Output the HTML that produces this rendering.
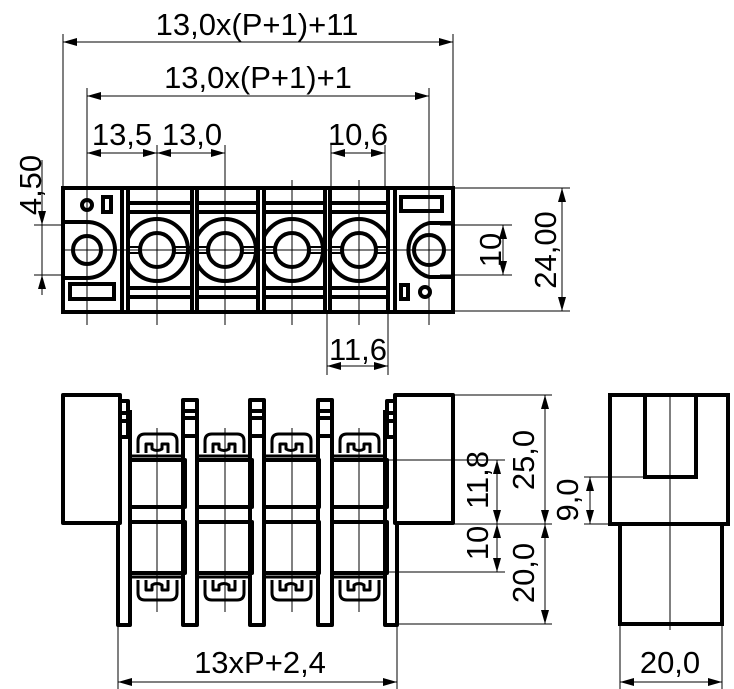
<!DOCTYPE html>
<html><head><meta charset="utf-8"><style>
html,body{margin:0;padding:0;background:#fff}
svg{display:block}
text{font-family:"Liberation Sans",sans-serif;font-size:31px;fill:#000}
</style></head><body>
<svg width="734" height="689" viewBox="0 0 734 689" xmlns="http://www.w3.org/2000/svg">
<defs>
<marker id="a" viewBox="0 0 14 8" refX="14" refY="4" markerWidth="14" markerHeight="8" markerUnits="userSpaceOnUse" orient="auto-start-reverse"><path d="M0,0 L14,4 L0,8 Z" fill="#000"/></marker>
<clipPath id="c1"><rect x="128" y="188" width="64" height="125"/></clipPath>
<clipPath id="c2"><rect x="197" y="188" width="61" height="125"/></clipPath>
<clipPath id="c3"><rect x="264" y="188" width="61" height="125"/></clipPath>
<clipPath id="c4"><rect x="330" y="188" width="58" height="125"/></clipPath>
</defs>

<g stroke="#000" stroke-width="1" fill="none">
<line x1="63" y1="34" x2="63" y2="188"/><line x1="453" y1="34" x2="453" y2="188"/>
<line x1="87" y1="88" x2="87" y2="325"/><line x1="429" y1="88" x2="429" y2="325"/>
<line x1="157" y1="145" x2="157" y2="325"/><line x1="225" y1="145" x2="225" y2="325"/>
<line x1="292" y1="180" x2="292" y2="325"/><line x1="359" y1="180" x2="359" y2="325"/>
<line x1="331" y1="145" x2="331" y2="188"/><line x1="385" y1="145" x2="385" y2="188"/>
<line x1="327" y1="313" x2="327" y2="375"/><line x1="388" y1="313" x2="388" y2="375"/>
<line x1="63" y1="42" x2="453" y2="42" marker-start="url(#a)" marker-end="url(#a)"/>
<line x1="87" y1="96" x2="429" y2="96" marker-start="url(#a)" marker-end="url(#a)"/>
<line x1="87" y1="153" x2="157" y2="153" marker-start="url(#a)" marker-end="url(#a)"/>
<line x1="157" y1="153" x2="225" y2="153" marker-start="url(#a)" marker-end="url(#a)"/>
<line x1="331" y1="153" x2="385" y2="153" marker-start="url(#a)" marker-end="url(#a)"/>
<line x1="327" y1="366" x2="388" y2="366" marker-start="url(#a)" marker-end="url(#a)"/>
<line x1="453" y1="188" x2="570" y2="188"/><line x1="453" y1="311" x2="570" y2="311"/>
<line x1="440" y1="225" x2="512" y2="225"/><line x1="440" y1="275" x2="512" y2="275"/>
<line x1="503" y1="225" x2="503" y2="275" marker-start="url(#a)" marker-end="url(#a)"/>
<line x1="562" y1="188" x2="562" y2="311" marker-start="url(#a)" marker-end="url(#a)"/>
<line x1="34" y1="225" x2="63" y2="225"/><line x1="34" y1="275" x2="63" y2="275"/>
<line x1="42" y1="160" x2="42" y2="290"/>
<line x1="42" y1="205" x2="42" y2="225" marker-end="url(#a)"/>
<line x1="42" y1="295" x2="42" y2="275" marker-end="url(#a)"/>
<line x1="453" y1="395" x2="552" y2="395"/>
<line x1="385" y1="460" x2="505" y2="460"/>
<line x1="453" y1="524" x2="552" y2="524"/>
<line x1="385" y1="572" x2="505" y2="572"/>
<line x1="397" y1="624" x2="552" y2="624"/>
<line x1="545" y1="395" x2="545" y2="524" marker-start="url(#a)" marker-end="url(#a)"/>
<line x1="545" y1="524" x2="545" y2="624" marker-start="url(#a)" marker-end="url(#a)"/>
<line x1="497" y1="460" x2="497" y2="524" marker-start="url(#a)" marker-end="url(#a)"/>
<line x1="497" y1="524" x2="497" y2="572" marker-start="url(#a)" marker-end="url(#a)"/>
<line x1="584" y1="477" x2="645" y2="477"/>
<line x1="584" y1="524" x2="612" y2="524"/>
<line x1="590" y1="477" x2="590" y2="524" marker-start="url(#a)" marker-end="url(#a)"/>
<line x1="118" y1="625" x2="118" y2="689"/><line x1="397" y1="625" x2="397" y2="689"/>
<line x1="118" y1="682" x2="397" y2="682" marker-start="url(#a)" marker-end="url(#a)"/>
<line x1="620" y1="624" x2="620" y2="689"/><line x1="722" y1="624" x2="722" y2="689"/>
<line x1="620" y1="682" x2="722" y2="682" marker-start="url(#a)" marker-end="url(#a)"/>
<line x1="670" y1="395" x2="670" y2="630"/>
<line x1="157" y1="428" x2="157" y2="612"/><line x1="225" y1="428" x2="225" y2="612"/>
<line x1="292" y1="428" x2="292" y2="612"/><line x1="359" y1="428" x2="359" y2="612"/>
<line x1="63" y1="250" x2="453" y2="250"/>
</g>

<!-- top view -->
<g stroke="#000" stroke-width="4" fill="none">
<rect x="63" y="188" width="390" height="124"/>
<line x1="122" y1="188" x2="122" y2="312"/><line x1="128" y1="188" x2="128" y2="312"/>
<line x1="192" y1="188" x2="192" y2="312"/><line x1="197" y1="188" x2="197" y2="312"/>
<line x1="258" y1="188" x2="258" y2="312"/><line x1="264" y1="188" x2="264" y2="312"/>
<line x1="325" y1="188" x2="325" y2="312"/><line x1="330" y1="188" x2="330" y2="312"/>
<line x1="388" y1="188" x2="388" y2="312"/><line x1="395" y1="188" x2="395" y2="312"/>
<circle cx="87" cy="205" r="5"/>
<rect x="103" y="197" width="8" height="15"/>
<path d="M63,222 H87 A28,28 0 0 1 87,278 H63"/>
<circle cx="87" cy="250" r="14"/>
<rect x="70" y="284" width="44" height="15"/>
<rect x="401" y="197" width="41" height="14"/>
<path d="M453,223 H429 A28,28 0 0 0 429,277 H453"/>
<circle cx="429" cy="250" r="15"/>
<rect x="401" y="285" width="7" height="14"/>
<circle cx="425" cy="292" r="5"/>
</g>
<g stroke="#000" stroke-width="4" fill="none">
<g clip-path="url(#c1)"><line x1="128" y1="203" x2="192" y2="203"/><line x1="128" y1="212" x2="192" y2="212"/><line x1="128" y1="288" x2="192" y2="288"/><line x1="128" y1="297" x2="192" y2="297"/><circle cx="157" cy="250" r="31"/><line x1="128" y1="247" x2="192" y2="247" stroke-width="2"/><line x1="128" y1="253" x2="192" y2="253" stroke-width="2"/></g>
<g clip-path="url(#c2)"><line x1="197" y1="203" x2="258" y2="203"/><line x1="197" y1="212" x2="258" y2="212"/><line x1="197" y1="288" x2="258" y2="288"/><line x1="197" y1="297" x2="258" y2="297"/><circle cx="225" cy="250" r="31"/><line x1="197" y1="247" x2="258" y2="247" stroke-width="2"/><line x1="197" y1="253" x2="258" y2="253" stroke-width="2"/></g>
<g clip-path="url(#c3)"><line x1="264" y1="203" x2="325" y2="203"/><line x1="264" y1="212" x2="325" y2="212"/><line x1="264" y1="288" x2="325" y2="288"/><line x1="264" y1="297" x2="325" y2="297"/><circle cx="292" cy="250" r="31"/><line x1="264" y1="247" x2="325" y2="247" stroke-width="2"/><line x1="264" y1="253" x2="325" y2="253" stroke-width="2"/></g>
<g clip-path="url(#c4)"><line x1="330" y1="203" x2="388" y2="203"/><line x1="330" y1="212" x2="388" y2="212"/><line x1="330" y1="288" x2="388" y2="288"/><line x1="330" y1="297" x2="388" y2="297"/><circle cx="359" cy="250" r="31"/><line x1="330" y1="247" x2="388" y2="247" stroke-width="2"/><line x1="330" y1="253" x2="388" y2="253" stroke-width="2"/></g>
<g fill="#fff">
<circle cx="157" cy="250" r="17"/><circle cx="225" cy="250" r="17"/><circle cx="292" cy="250" r="17"/><circle cx="359" cy="250" r="17"/>
</g>
</g>
<g stroke="#000" stroke-width="1"><line x1="130" y1="250" x2="390" y2="250"/>
<line x1="157" y1="225" x2="157" y2="275"/><line x1="225" y1="225" x2="225" y2="275"/><line x1="292" y1="225" x2="292" y2="275"/><line x1="359" y1="225" x2="359" y2="275"/></g>

<!-- front view -->
<g stroke="#000" stroke-width="4" fill="none" stroke-linejoin="round">
<path d="M63,395 H120 V523 H63 Z"/>
<path d="M120,523 H118 V625 H130 V410"/>
<rect x="120" y="401" width="8" height="36"/><line x1="120" y1="413" x2="128" y2="413"/><line x1="120" y1="421" x2="128" y2="421"/>
<path d="M453,395 H395 V523 H453 Z"/>
<path d="M395,523 H397 V625 H385 V410"/>
<rect x="387" y="401" width="8" height="36"/><line x1="387" y1="413" x2="395" y2="413"/><line x1="387" y1="421" x2="395" y2="421"/>
<rect x="183" y="400" width="14" height="225"/><line x1="183" y1="411" x2="197" y2="411"/><line x1="183" y1="418" x2="197" y2="418"/><line x1="183" y1="436" x2="197" y2="436"/>
<rect x="250" y="400" width="14" height="225"/><line x1="250" y1="411" x2="264" y2="411"/><line x1="250" y1="418" x2="264" y2="418"/><line x1="250" y1="436" x2="264" y2="436"/>
<rect x="318" y="400" width="14" height="225"/><line x1="318" y1="411" x2="332" y2="411"/><line x1="318" y1="418" x2="332" y2="418"/><line x1="318" y1="436" x2="332" y2="436"/>
<g id="m1">
<rect x="130" y="460" width="55" height="47"/>
<rect x="130" y="522" width="55" height="51"/>
<line x1="131" y1="456" x2="184" y2="456" stroke-width="3"/>
<line x1="131" y1="577" x2="184" y2="577" stroke-width="3"/>
<path d="M138,453 V441 Q138,434 145,434 H170 Q177,434 177,441 V453 M146,453 V444 H152 V449 Q157,452 162,449 V444 H168 V453" stroke-width="3"/>
<path d="M138,580 V593 Q138,600 145,600 H170 Q177,600 177,593 V580 M146,580 V590 H152 V585 Q157,582 162,585 V590 H168 V580" stroke-width="3"/>
</g>
<use href="#m1" x="67"/>
<use href="#m1" x="134"/>
<use href="#m1" x="202"/>
</g>

<!-- side view -->
<g stroke="#000" stroke-width="4" fill="none">
<rect x="610" y="395" width="118" height="129"/>
<rect x="620" y="524" width="102" height="100"/>
<rect x="645" y="395" width="51" height="82"/>
</g>

<text x="257" y="35" text-anchor="middle">13,0x(P+1)+11</text>
<text x="258" y="88" text-anchor="middle">13,0x(P+1)+1</text>
<text x="122" y="145" text-anchor="middle">13,5</text>
<text x="192" y="145" text-anchor="middle">13,0</text>
<text x="358" y="145" text-anchor="middle">10,6</text>
<text x="358" y="360" text-anchor="middle">11,6</text>
<text x="260" y="673" text-anchor="middle">13xP+2,4</text>
<text x="670" y="673" text-anchor="middle">20,0</text>
<text transform="translate(41,185) rotate(-90)" text-anchor="middle">4,50</text>
<text transform="translate(501,250) rotate(-90)" text-anchor="middle">10</text>
<text transform="translate(556,250) rotate(-90)" text-anchor="middle">24,00</text>
<text transform="translate(534,460) rotate(-90)" text-anchor="middle">25,0</text>
<text transform="translate(488,480) rotate(-90)" text-anchor="middle">11,8</text>
<text transform="translate(488,543) rotate(-90)" text-anchor="middle">10</text>
<text transform="translate(534,573) rotate(-90)" text-anchor="middle">20,0</text>
<text transform="translate(578,500) rotate(-90)" text-anchor="middle">9,0</text>
</svg>
</body></html>
